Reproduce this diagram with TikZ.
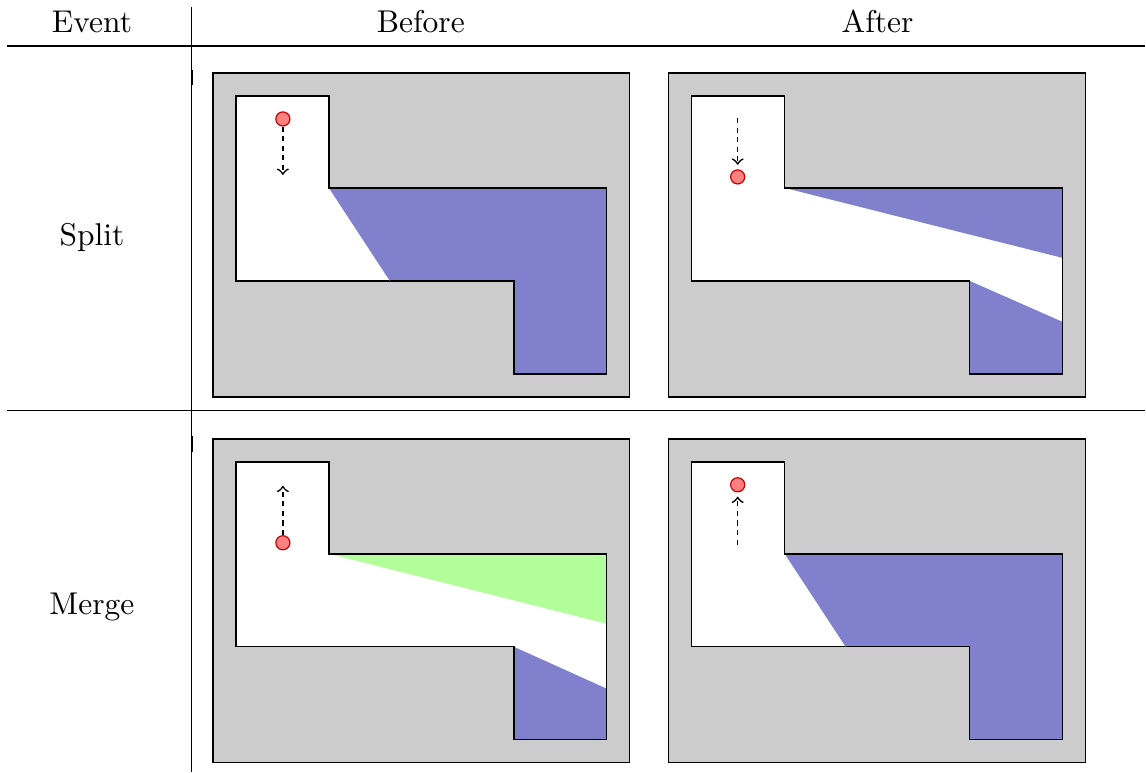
\documentclass[tikz,border=0pt]{standalone}
\usepackage{amsmath}
\usepackage{tikz}

\definecolor{roomgray}{RGB}{204,204,204}
\definecolor{splitblue}{RGB}{128,128,204}
\definecolor{mergegreen}{RGB}{178,255,153}
\definecolor{agentfill}{RGB}{255,128,128}
\definecolor{agentdraw}{RGB}{200,0,0}

\begin{document}
\begin{tikzpicture}[x=0.3333pt,y=0.3333pt,yscale=-1,xscale=1,
  room/.style={draw=black, fill=roomgray, line width=0.5pt},
  hall/.style={draw=black, fill=white, line width=0.5pt},
  agent/.style={circle, draw=agentdraw, fill=agentfill, line width=0.4pt, minimum size=4.7pt, inner sep=0pt},
  move/.style={->, dash pattern={on 1.7pt off 1.5pt}, line width=0.55pt},
  rule/.style={line width=0.35pt},
  label/.style={anchor=base, font=\fontsize{10.5}{12.6}\selectfont}]
\path (0,0) rectangle (1146,772);

%Table rules
\draw [rule] (192,7) -- (192,772) ;
\draw [rule] (7,46) -- (1146,46) ;
\draw [rule] (7,411) -- (1146,411) ;
\draw [line width=0.7pt] (192,70) -- (192,85) ;
\draw [line width=0.7pt] (192,436) -- (192,452) ;

% Text Node
\node [label] (event) at (92,33) {Event};
% Text Node
\node [label] (before) at (421,33) {Before};
% Text Node
\node [label] (after) at (878,33) {After};
% Text Node
\node [label] (split) at (92,246) {Split};
% Text Node
\node [label] (merge) at (92,615) {Merge};

%Shape: Split before
\draw [room] (213,73) rectangle (630,397) ;
\draw [hall] (236,96) -- (329,96) -- (329,188) -- (607,188) -- (607,374) -- (514,374) -- (514,281) -- (236,281) -- cycle ;
\fill [splitblue] (329,188) -- (607,188) -- (607,374) -- (514,374) -- (514,281) -- (390,281) -- cycle ;
\draw [line width=0.5pt] (329,188) -- (607,188) -- (607,374) -- (514,374) -- (514,281) -- (390,281) ;
\node [agent] (a1) at (283,119) {};
\coordinate (t1) at (283,175) ;
\draw [move] (a1) -- (t1) ;

%Shape: Split after
\draw [room] (669,73) rectangle (1086,397) ;
\draw [hall] (692,96) -- (785,96) -- (785,188) -- (1063,188) -- (1063,374) -- (970,374) -- (970,281) -- (692,281) -- cycle ;
\fill [splitblue] (785,188) -- (1063,188) -- (1063,258) -- cycle ;
\fill [splitblue] (970,281) -- (1063,322) -- (1063,374) -- (970,374) -- cycle ;
\draw [line width=0.5pt] (785,188) -- (1063,188) -- (1063,374) -- (970,374) -- (970,281) ;
\node [agent] (a2) at (738,177) {};
\coordinate (s2) at (738,118) ;
\draw [move, shorten >=1.5pt] (s2) -- (a2) ;

%Shape: Merge before
\draw [room] (213,439) rectangle (630,763) ;
\draw [hall] (236,462) -- (329,462) -- (329,554) -- (607,554) -- (607,740) -- (514,740) -- (514,647) -- (236,647) -- cycle ;
\fill [mergegreen] (329,554) -- (607,554) -- (607,624) -- cycle ;
\fill [splitblue] (514,647) -- (607,689) -- (607,740) -- (514,740) -- cycle ;
\draw [line width=0.5pt] (329,554) -- (607,554) -- (607,740) -- (514,740) -- (514,647) ;
\node [agent] (a3) at (283,543) {};
\coordinate (t3) at (283,486) ;
\draw [move] (a3) -- (t3) ;

%Shape: Merge after
\draw [room] (669,439) rectangle (1086,763) ;
\draw [hall] (692,462) -- (785,462) -- (785,554) -- (1063,554) -- (1063,740) -- (970,740) -- (970,647) -- (692,647) -- cycle ;
\fill [splitblue] (785,554) -- (1063,554) -- (1063,740) -- (970,740) -- (970,647) -- (846,647) -- cycle ;
\draw [line width=0.5pt] (785,554) -- (1063,554) -- (1063,740) -- (970,740) -- (970,647) -- (846,647) ;
\node [agent] (a4) at (738,485) {};
\coordinate (s4) at (738,545) ;
\draw [move, shorten >=1.4pt] (s4) -- (a4) ;
\end{tikzpicture}
\end{document}
